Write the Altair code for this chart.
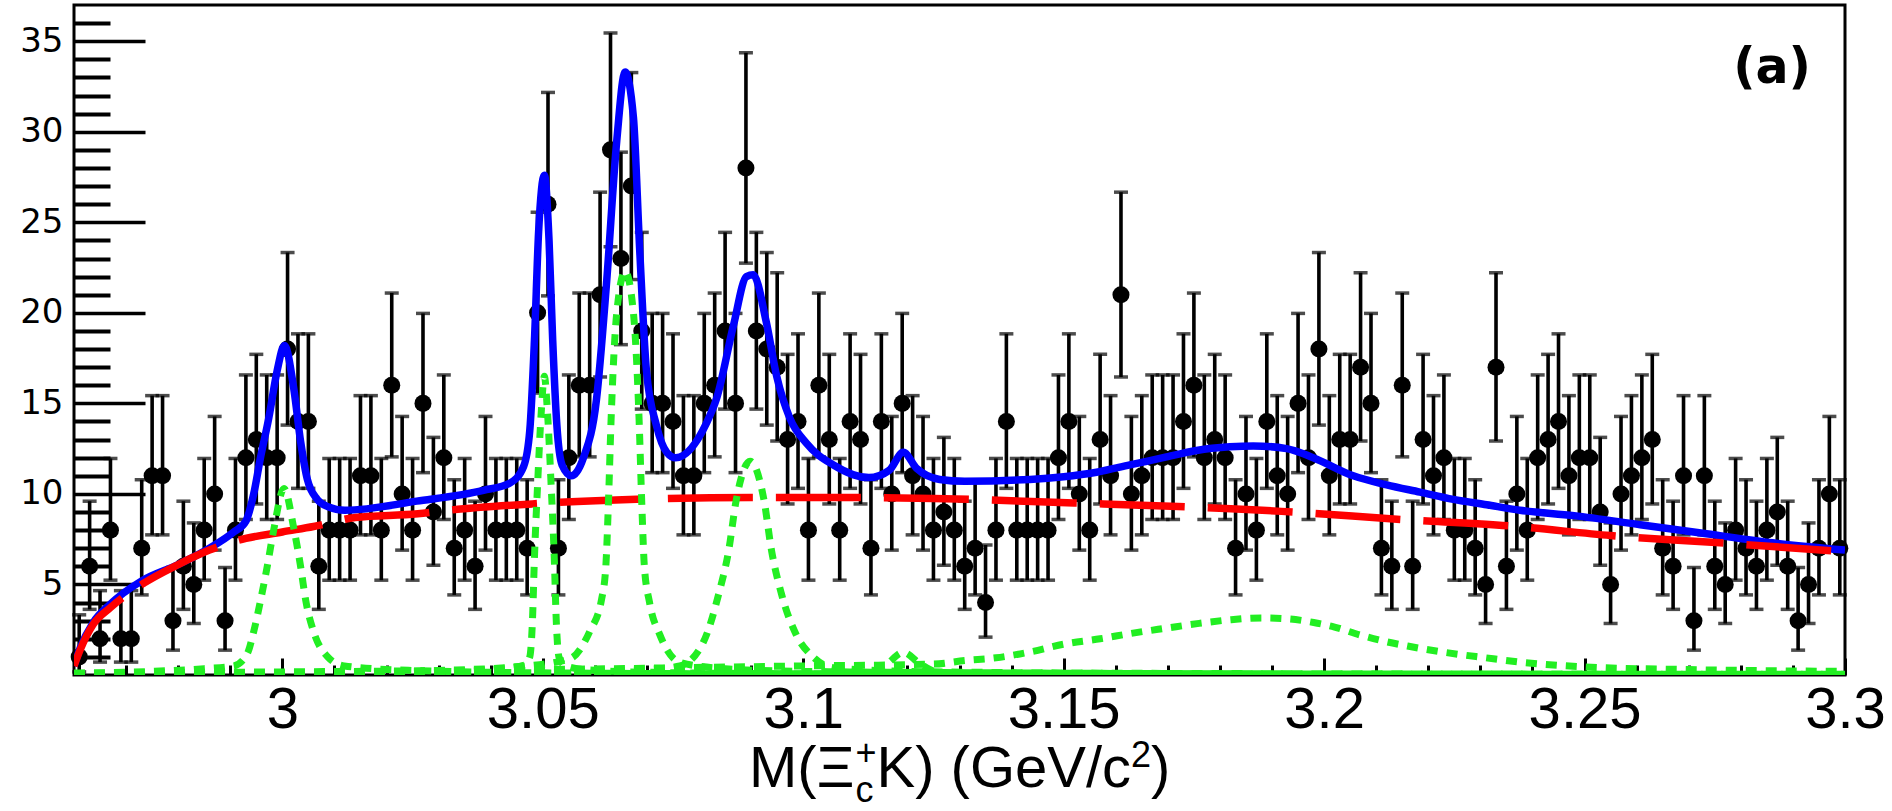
import altair as alt
import pandas as pd
import math

# ---------------- data ----------------
# histogram bins of 2 MeV from 2.96 to 3.30 GeV (bin centres)
mass = [round(2.961 + 0.002 * i, 3) for i in range(170)]
counts = [1, 6, 2, 8, 2, 2, 7, 11, 11, 3,
          6, 5, 8, 10, 3, 8, 12, 13, 12, 12,
          18, 14, 14, 6, 8, 8, 8, 11, 11, 8,
          16, 10, 8, 15, 9, 12, 7, 8, 6, 10,
          8, 8, 8, 7, 20, 26, 7, 12, 16, 16,
          21, 29, 23, 27, 19, 15, 15, 14, 11, 11,
          15, 16, 19, 15, 28, 19, 18, 17, 13, 14,
          8, 16, 13, 8, 14, 13, 7, 14, 10, 15,
          11, 10, 8, 9, 8, 6, 7, 4, 8, 14,
          8, 8, 8, 8, 12, 14, 10, 8, 13, 11,
          21, 10, 11, 12, 12, 12, 14, 16, 12, 13,
          12, 7, 10, 8, 14, 11, 10, 15, 12, 18,
          11, 13, 13, 17, 15, 7, 6, 16, 6, 13,
          11, 12, 8, 8, 7, 5, 17, 6, 10, 8,
          12, 13, 14, 11, 12, 12, 9, 5, 10, 11,
          12, 13, 7, 6, 11, 3, 11, 6, 5, 8,
          7, 6, 8, 9, 6, 3, 5, 7, 10, 7]

# background (red dashed)
bkg_x = [2.960, 2.9612, 2.9637, 2.9669, 2.973, 2.980, 2.986, 2.991, 3.000, 3.006,
         3.014, 3.026, 3.032, 3.048, 3.068, 3.090, 3.110, 3.125, 3.152, 3.172,
         3.194, 3.214, 3.237, 3.255, 3.276, 3.300]
bkg_y = [0.5, 1.4, 2.8, 3.7, 5.0, 6.1, 6.9, 7.4, 7.9, 8.2,
         8.7, 8.9, 9.1, 9.45, 9.7, 9.8, 9.8, 9.75, 9.5, 9.3,
         9.0, 8.6, 8.2, 7.7, 7.3, 6.8]

# total fit (blue)
tot_x = [2.960, 2.9612, 2.9637, 2.9669, 2.973, 2.980, 2.986, 2.9907, 2.993, 2.9945,
         2.9958, 2.9974, 2.999, 3.0004, 3.0022, 3.0035, 3.0048, 3.0067, 3.0087, 3.012,
         3.0258, 3.0386, 3.0437, 3.0463, 3.0475, 3.0484, 3.0492, 3.0503, 3.0512, 3.0519,
         3.0527, 3.0537, 3.0555, 3.0578, 3.0603, 3.0622, 3.0642, 3.0658, 3.0674, 3.0686,
         3.0699, 3.0718, 3.0738, 3.0755, 3.0814, 3.0834, 3.0866, 3.0891, 3.0904, 3.0929,
         3.0949, 3.0974, 3.1006, 3.1058, 3.1126, 3.1165, 3.1192, 3.1218, 3.1262, 3.131,
         3.1435, 3.150, 3.1563, 3.1627, 3.1691, 3.1755, 3.1819, 3.1864, 3.1928, 3.1979,
         3.2056, 3.212, 3.2184, 3.2248, 3.2312, 3.2376, 3.248, 3.2607, 3.2734, 3.2861,
         3.300]
tot_y = [0.5, 1.5, 2.9, 3.9, 5.2, 6.1, 7.0, 7.9, 8.5, 10.0,
         12.0, 14.2, 16.8, 18.2, 15.8, 12.9, 10.8, 9.7, 9.3, 9.1,
         9.6, 10.2, 10.6, 11.5, 13.5, 18.5, 24.5, 27.6, 24.0, 18.5,
         13.8, 11.6, 11.0, 12.0, 15.2, 21.5, 29.5, 33.3, 30.8, 23.5,
         16.8, 13.8, 12.3, 12.0, 13.9, 15.3, 19.3, 22.0, 22.1, 19.5,
         16.5, 14.2, 12.8, 11.6, 10.9, 11.3, 12.3, 11.4, 10.8, 10.7,
         10.8, 10.95, 11.2, 11.6, 12.0, 12.4, 12.6, 12.65, 12.5, 12.0,
         11.0, 10.5, 10.1, 9.7, 9.4, 9.1, 8.8, 8.3, 7.8, 7.3,
         6.9]

# signal components (green dotted)
sig1_x = [2.960, 2.975, 2.985, 2.9907, 2.9933, 2.9945, 2.9958, 2.9971, 2.9984, 3.0003,
          3.0022, 3.0035, 3.0045, 3.0060, 3.0087, 3.0119, 3.025, 3.05, 3.10, 3.20, 3.30]
sig1_y = [0.1, 0.2, 0.35, 0.5, 1.2, 2.4, 4.1, 6.0, 8.1, 10.3,
          8.1, 6.0, 4.1, 2.4, 1.0, 0.5, 0.25, 0.12, 0.06, 0.03, 0.02]

sig2_x = [2.960, 3.000, 3.030, 3.042, 3.0465, 3.0475, 3.0480, 3.0484, 3.0490, 3.0497,
          3.0503, 3.0509, 3.0516, 3.0522, 3.0526, 3.0531, 3.0541, 3.058, 3.070, 3.100,
          3.200, 3.300]
sig2_y = [0.03, 0.06, 0.15, 0.35, 0.55, 1.0, 2.9, 6.5, 10.5, 14.5,
          16.5, 14.5, 10.5, 6.5, 2.9, 1.0, 0.55, 0.3, 0.15, 0.07,
          0.03, 0.02]

sig3_x = [2.960, 3.000, 3.030, 3.045, 3.0552, 3.059, 3.0613, 3.0621, 3.0626, 3.0631,
          3.0642, 3.0658, 3.0674, 3.0685, 3.0690, 3.0695, 3.0705, 3.0725, 3.0763, 3.085,
          3.100, 3.150, 3.200, 3.300]
sig3_y = [0.05, 0.1, 0.25, 0.45, 0.9, 2.4, 4.2, 6.0, 9.5, 14.0,
          20.0, 22.3, 20.0, 14.0, 9.5, 6.0, 4.0, 2.2, 0.7, 0.35,
          0.2, 0.1, 0.06, 0.04]

sig4_x = [2.960, 3.030, 3.060, 3.070, 3.0763, 3.0808, 3.0838, 3.0857, 3.0871, 3.0898,
          3.0925, 3.0939, 3.0958, 3.0987, 3.1019, 3.1058, 3.120, 3.160, 3.220, 3.300]
sig4_y = [0.03, 0.08, 0.2, 0.3, 0.5, 1.8, 4.5, 6.9, 9.6, 11.8,
          9.6, 6.9, 4.5, 2.2, 1.0, 0.4, 0.2, 0.1, 0.06, 0.04]

sig5_x = [2.960, 3.100, 3.113, 3.116, 3.1192, 3.1225, 3.126, 3.140, 3.300]
sig5_y = [0.02, 0.05, 0.15, 0.6, 1.25, 0.6, 0.15, 0.05, 0.02]

sig6_x = [2.960, 3.050, 3.100, 3.125, 3.131, 3.137, 3.144, 3.150, 3.157, 3.163,
          3.170, 3.176, 3.182, 3.188, 3.193, 3.198, 3.202, 3.207, 3.211, 3.216,
          3.222, 3.231, 3.238, 3.250, 3.270, 3.300]
sig6_y = [0.1, 0.3, 0.5, 0.6, 0.8, 0.95, 1.3, 1.7, 2.0, 2.3,
          2.6, 2.85, 3.05, 3.15, 3.1, 2.9, 2.65, 2.2, 1.9, 1.6,
          1.3, 0.95, 0.7, 0.45, 0.3, 0.2]

x_major = [3.0, 3.05, 3.1, 3.15, 3.2, 3.25, 3.3]
x_minor = [round(2.96 + 0.01 * k, 2) for k in range(1, 34) if k % 5 != 4]
y_major = [5, 10, 15, 20, 25, 30, 35]
y_minor = [v for v in range(1, 37) if v % 5 != 0]

# ---------------- tables ----------------
def pois_lo(n):
    if n <= 0:
        return 0.0
    return n * (1 - 1 / (9 * n) - 1 / (3 * math.sqrt(n))) ** 3

def pois_hi(n):
    return n + 1 + math.sqrt(n + 0.75)

pts = pd.DataFrame({
    "m": mass,
    "n": counts,
    "lo": [pois_lo(n) for n in counts],
    "hi": [pois_hi(n) for n in counts],
})
bkg = pd.DataFrame({"x": bkg_x, "y": bkg_y})
tot = pd.DataFrame({"x": tot_x, "y": tot_y})
sig = pd.concat([
    pd.DataFrame({"x": sx, "y": sy, "comp": name})
    for name, sx, sy in [("s1", sig1_x, sig1_y), ("s2", sig2_x, sig2_y),
                         ("s3", sig3_x, sig3_y), ("s4", sig4_x, sig4_y),
                         ("s5", sig5_x, sig5_y), ("s6", sig6_x, sig6_y)]
], ignore_index=True)

# ---------------- chart ----------------
W, H = 1771, 670
xs = alt.Scale(domain=[2.96, 3.30], nice=False, zero=False)
ys = alt.Scale(domain=[0, 37], nice=False, zero=False)

x_label_axis = alt.Axis(orient="bottom", values=x_major, format=".3~g", ticks=False,
                        domain=False, grid=False, labelFont="Liberation Sans",
                        labelFontSize=58, labelColor="black", labelPadding=6,
                        labelFlush=False, labelOverlap=False, title=None)
y_label_axis = alt.Axis(orient="left", values=y_major, ticks=False, domain=False,
                        grid=False, labelFont="DejaVu Sans", labelFontSize=34,
                        labelColor="black", labelPadding=11, labelFlush=False,
                        labelOverlap=False, title=None)
x_major_ticks = alt.Axis(orient="top", offset=-H, values=x_major, ticks=True, tickSize=17,
                         tickWidth=3, tickColor="black", labels=False, domain=False,
                         grid=False, title=None)
x_minor_ticks = alt.Axis(orient="top", offset=-H, values=x_minor, ticks=True, tickSize=10,
                         tickWidth=3, tickColor="black", labels=False, domain=False,
                         grid=False, title=None)
y_major_ticks = alt.Axis(orient="right", offset=-W, values=y_major, ticks=True, tickSize=71,
                         tickWidth=3.5, tickColor="black", labels=False, domain=False,
                         grid=False, title=None)
y_minor_ticks = alt.Axis(orient="right", offset=-W, values=y_minor, ticks=True, tickSize=36,
                         tickWidth=4, tickColor="black", labels=False, domain=False,
                         grid=False, title=None)

bars = alt.Chart(pts).mark_rule(color="black", strokeWidth=3.6).encode(
    x=alt.X("m:Q", scale=xs, axis=x_label_axis),
    y=alt.Y("lo:Q", scale=ys, axis=y_label_axis),
    y2="hi:Q",
)
caps_hi = alt.Chart(pts).mark_tick(orient="horizontal", size=14, thickness=3.5, color="black").encode(
    x=alt.X("m:Q", scale=xs, axis=x_major_ticks),
    y=alt.Y("hi:Q", scale=ys, axis=y_major_ticks),
)
caps_lo = alt.Chart(pts).mark_tick(orient="horizontal", size=14, thickness=3.5, color="black").encode(
    x=alt.X("m:Q", scale=xs, axis=x_minor_ticks),
    y=alt.Y("lo:Q", scale=ys, axis=y_minor_ticks),
)
points = alt.Chart(pts).mark_point(filled=True, shape="circle", size=290, color="black",
                                   opacity=1, strokeWidth=0).encode(
    x=alt.X("m:Q", scale=xs, axis=None),
    y=alt.Y("n:Q", scale=ys, axis=None),
)
blue = alt.Chart(tot).mark_line(color="#0000ff", strokeWidth=7.5, interpolate="monotone", clip=True).encode(
    x=alt.X("x:Q", scale=xs, axis=None),
    y=alt.Y("y:Q", scale=ys, axis=None),
)
red = alt.Chart(bkg).mark_line(color="#ff0000", strokeWidth=7.5, strokeDash=[85, 23],
                               interpolate="monotone", clip=True).encode(
    x=alt.X("x:Q", scale=xs, axis=None),
    y=alt.Y("y:Q", scale=ys, axis=None),
)
green = alt.Chart(sig).mark_line(color="#22ee22", strokeWidth=7, strokeDash=[11, 9],
                                 interpolate="monotone", clip=True).encode(
    x=alt.X("x:Q", scale=xs, axis=None),
    y=alt.Y("y:Q", scale=ys, axis=None),
    detail="comp:N",
)


def label(s, px, py, size, font="Liberation Sans", weight="normal", align="left"):
    return alt.Chart(pd.DataFrame({"t": [s]})).mark_text(
        align=align, baseline="alphabetic", font=font, fontSize=size,
        fontWeight=weight, color="black"
    ).encode(text="t:N", x=alt.value(px), y=alt.value(py))


T = 58
title_parts = [
    label("M(\u039e", 675, 782, T),
    label("+", 781.5, 760, 36),
    label("c", 781.5, 797, 36),
    label("K) (GeV/c", 802.5, 782, T),
    label("2", 1057, 762, 36),
    label(")", 1077, 782, T),
]
panel = label("(a)", 1737, 78, 49, font="DejaVu Sans", weight="bold", align="right")

chart = alt.layer(
    bars, caps_hi, caps_lo, points, blue, red, green, panel, *title_parts
).resolve_axis(
    x="independent", y="independent"
).properties(
    width=W, height=H,
    padding={"left": 74, "top": 5, "right": 47, "bottom": 136},
    autosize=alt.AutoSizeParams(type="none"),
    background="white",
).configure_view(
    stroke="black", strokeWidth=3
)

chart.save("out.html", embed_options={"renderer": "svg", "actions": False})
